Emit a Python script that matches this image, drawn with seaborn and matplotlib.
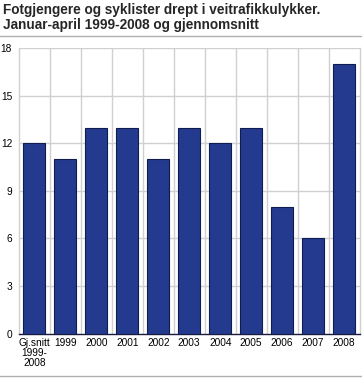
import matplotlib
matplotlib.use("Agg")
import matplotlib.pyplot as plt
import seaborn as sns
import pandas as pd
from matplotlib.lines import Line2D

categories = ["Gj.snitt\n1999-\n2008", "1999", "2000", "2001", "2002", "2003",
              "2004", "2005", "2006", "2007", "2008"]
values = [12, 11, 13, 13, 11, 13, 12, 13, 8, 6, 17]
yticks = [0, 3, 6, 9, 12, 15, 18]

sns.set_style("white")
plt.rcParams['font.family'] = ['Liberation Sans', 'DejaVu Sans']

df = pd.DataFrame({"cat": categories, "val": values})

left, right, top, bottom = 19.0, 359.5, 48.3, 333.5
fig = plt.figure(figsize=(3.62, 3.78), dpi=100)
ax = fig.add_axes([left/362, 1 - bottom/378, (right - left)/362, (bottom - top)/378])

sns.barplot(data=df, x="cat", y="val", color="#233a8f", saturation=1,
            width=0.71, edgecolor="#101c50", linewidth=0.8, ax=ax, zorder=3)

ax.set_ylim(0, 18)
ax.set_xlim(-0.5, len(categories) - 0.5)
ax.set_yticks(yticks)
ax.set_yticklabels([str(t) for t in yticks], fontsize=7.3)
ax.set_xticks(range(len(categories)))
ax.set_xticklabels(categories, fontsize=7.3, linespacing=1.05)
for t in yticks[1:]:
    ax.axhline(t, color="#d0d0d0", lw=1.0, zorder=1)
for i in range(1, len(categories)):
    ax.axvline(i - 0.5, color="#d0d0d0", lw=1.0, zorder=1)
ax.set_xlabel("")
ax.set_ylabel("")
ax.spines["top"].set_visible(False)
for s in ["left", "right"]:
    ax.spines[s].set_color("#d0d0d0")
    ax.spines[s].set_linewidth(1.0)
ax.spines["bottom"].set_color("#1a1a40")
ax.spines["bottom"].set_linewidth(1.0)
ax.tick_params(axis="both", length=0, colors="#000000")
ax.tick_params(axis="x", pad=3)
ax.tick_params(axis="y", pad=5)

fig.text(3/362, 1 - 3/378, "Fotgjengere og syklister drept i veitrafikkulykker.\nJanuar-april 1999-2008 og gjennomsnitt",
         fontsize=9.8, fontweight="bold", va="top", ha="left", linespacing=1.12)
fig.add_artist(Line2D([0, 1], [1 - 36/378, 1 - 36/378], color="#b0b0b0", lw=1.0, transform=fig.transFigure))
fig.add_artist(Line2D([0, 1], [1 - 375.5/378, 1 - 375.5/378], color="#b0b0b0", lw=1.0, transform=fig.transFigure))

fig.savefig("out.png", dpi=100)
